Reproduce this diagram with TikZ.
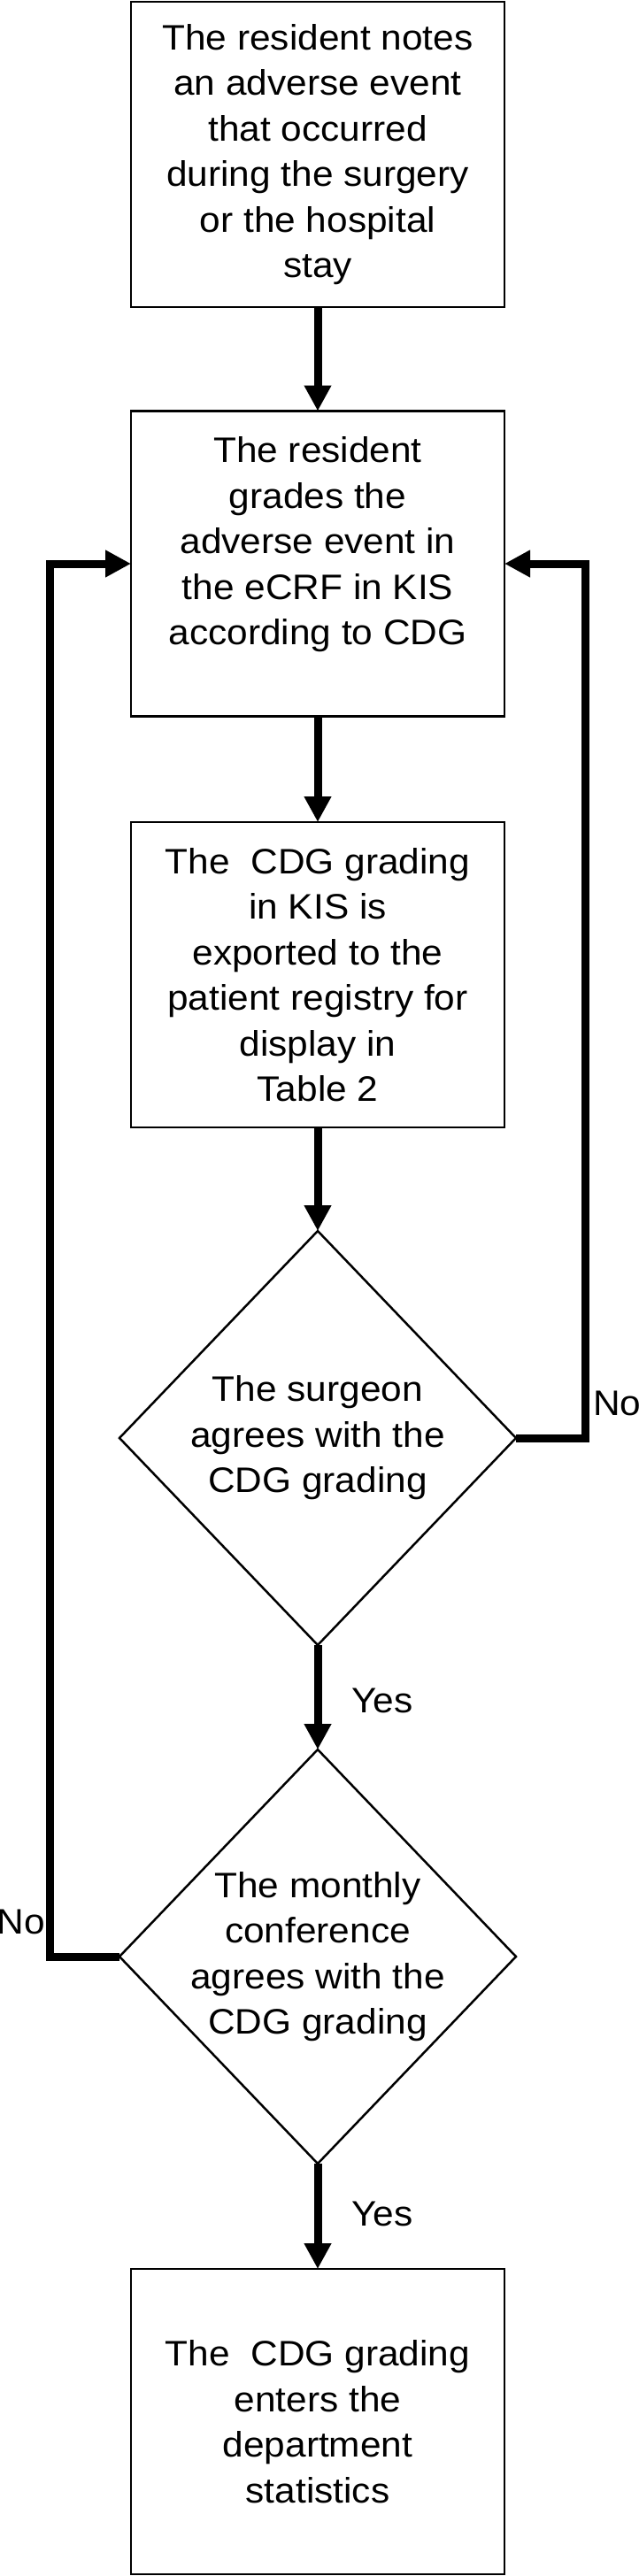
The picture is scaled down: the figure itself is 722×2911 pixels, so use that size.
\documentclass[tikz,border=0pt]{standalone}
\usepackage{fontspec}
\setmainfont[FakeStretch=1.06]{Liberation Sans}
\usetikzlibrary{arrows.meta,shapes.geometric}
\tikzset{
  txt/.style={font=\fontsize{40}{51.5}\selectfont},
  box/.style={draw, line width=2.5pt, minimum width=422pt, minimum height=345pt,
    inner sep=0pt, outer sep=0pt, align=center, txt},
  dia/.style={draw, diamond, line width=2.5pt, minimum width=448pt, minimum height=468pt,
    inner sep=0pt, outer sep=0pt},
  dtext/.style={align=center, inner sep=0pt, txt},
  conn/.style={line width=9pt, line join=miter, -{Triangle[length=29pt,width=29pt]}},
  lbl/.style={inner sep=0pt, txt}
}
\begin{document}
\begin{tikzpicture}[x=1pt,y=-1pt]
\fill[white] (0,0) rectangle (722,2911);
\path[use as bounding box] (0,0) rectangle (722,2911);

\node[box] (b1) at (359,174.5) {The resident notes\\an adverse event\\that occurred\\during the surgery\\or the hospital\\stay};
\node[box] (b2) at (359,637) {The resident\\grades the\\adverse event in\\the eCRF in KIS\\according to CDG\\\mbox{}};
\node[box] (b3) at (359,1101.5) {The\ \ CDG grading\\in KIS is\\exported to the\\patient registry for\\display in\\Table 2};
\node[dia] (d1) at (359,1625) {};
\node[dtext] (d1t) at (d1.center) {The surgeon\\agrees with the\\CDG grading};
\node[dia] (d2) at (359,2211) {};
\node[dtext] (d2t) at (d2.center) {The monthly\\conference\\agrees with the\\CDG grading};
\node[box] (b4) at (359,2736.5) {The\ \ CDG grading\\enters the\\department\\statistics};

\draw[conn] (b1.south) -- (b2.north);
\draw[conn] (b2.south) -- (b3.north);
\draw[conn] (b3.south) -- (d1.north);
\draw[conn] (d1.south) -- (d2.north);
\draw[conn] (d2.south) -- (b4.north);
\draw[conn] (d1.east) -- ++(78.5,0) |- (b2.east);
\draw[conn] (d2.west) -- ++(-78.5,0) |- (b2.west);

\node[lbl, anchor=base west] (yes1) at (397,1935) {Yes};
\node[lbl, anchor=base west] (yes2) at (397,2515) {Yes};
\node[lbl, anchor=base west] (no1) at (670,1599) {No};
\node[lbl, anchor=base east] (no2) at (51,2185) {No};
\end{tikzpicture}
\end{document}
